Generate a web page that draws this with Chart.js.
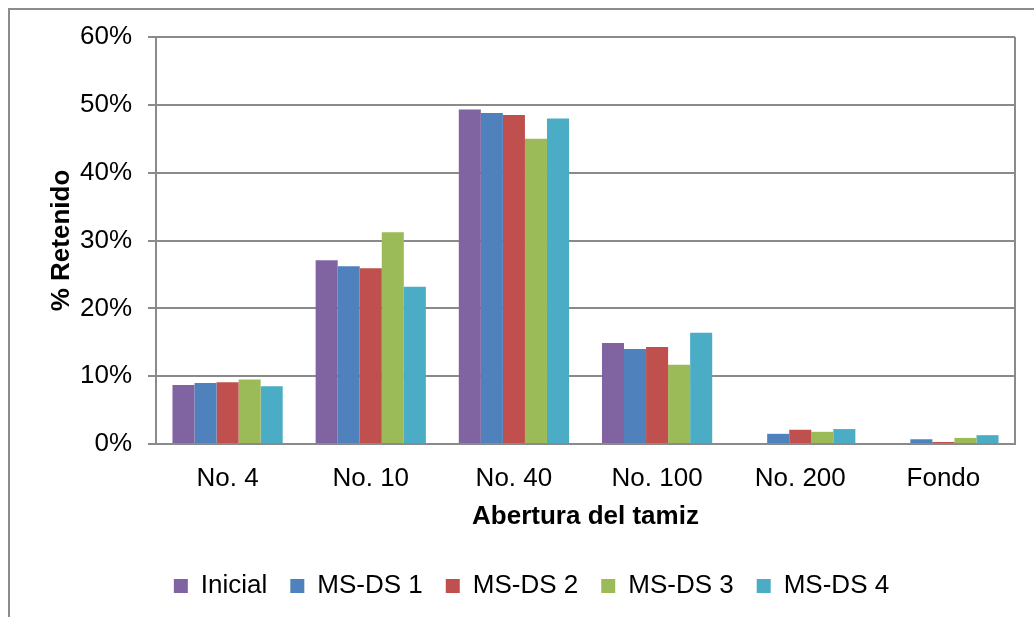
<!DOCTYPE html>
<html>
<head>
<meta charset="utf-8">
<script src="https://cdn.jsdelivr.net/npm/chart.js@4.4.1/dist/chart.umd.min.js"></script>
<style>
  html, body { margin: 0; padding: 0; background: #fff; overflow: hidden; }
  #wrap { position: relative; width: 1034px; height: 617px; }
  #frame { position: absolute; left: 8px; top: 8px; width: 1040px; height: 640px; border: 2px solid #8c8c8c; box-sizing: border-box; }
  canvas { position: absolute; left: 0; top: 0; }
</style>
</head>
<body>
<div id="wrap">
  <div id="frame"></div>
  <canvas id="chart" width="1034" height="617"></canvas>
</div>
<script>
const categories = ['No. 4', 'No. 10', 'No. 40', 'No. 100', 'No. 200', 'Fondo'];
const seriesNames = ['Inicial', 'MS-DS 1', 'MS-DS 2', 'MS-DS 3', 'MS-DS 4'];
const inicial = [8.7, 27.1, 49.3, 14.9, 0, 0];
const msds1 = [9.0, 26.2, 48.8, 14.0, 1.5, 0.7];
const msds2 = [9.1, 25.9, 48.5, 14.3, 2.1, 0.3];
const msds3 = [9.5, 31.2, 45.0, 11.7, 1.8, 0.9];
const msds4 = [8.5, 23.2, 48.0, 16.4, 2.2, 1.3];
const yTicks = [0, 10, 20, 30, 40, 50, 60];

const colors = ['#8064A2', '#4F81BD', '#C0504D', '#9BBB59', '#4BACC6'];
const allSeries = [inicial, msds1, msds2, msds3, msds4];
const gridColor = '#8a8a8a';
const font = 'Liberation Sans, Arial, sans-serif';

// right edge of the plot box + nudge the legend a bit to the right like the original
const plotBorder = {
  id: 'plotBorder',
  afterLayout(chart) {
    chart.legend.left += 24;
    chart.legend.right += 24;
  },
  afterDatasetsDraw(chart) {
    const {ctx, chartArea} = chart;
    ctx.save();
    ctx.strokeStyle = gridColor;
    ctx.lineWidth = 2;
    ctx.beginPath();
    ctx.moveTo(chartArea.right, chartArea.top);
    ctx.lineTo(chartArea.right, chartArea.bottom);
    ctx.stroke();
    ctx.restore();
  }
};

new Chart(document.getElementById('chart').getContext('2d'), {
  type: 'bar',
  data: {
    labels: categories,
    datasets: allSeries.map((d, i) => ({
      label: seriesNames[i],
      data: d,
      backgroundColor: colors[i],
      borderWidth: 0,
      categoryPercentage: 0.77,
      barPercentage: 1.0
    }))
  },
  options: {
    responsive: false,
    animation: false,
    layout: { padding: { top: 37, right: 19, left: 0, bottom: 8 } },
    plugins: {
      tooltip: { enabled: false },
      legend: {
        position: 'bottom',
        labels: {
          color: '#000',
          font: { family: font, size: 26 },
          boxWidth: 14,
          boxHeight: 14,
          padding: 23
        }
      }
    },
    scales: {
      x: {
        grid: { display: false },
        border: { color: gridColor, width: 2 },
        ticks: { color: '#000', font: { family: font, size: 26 }, padding: 11 },
        title: {
          display: true,
          text: 'Abertura del tamiz',
          color: '#000',
          font: { family: font, size: 26, weight: 'bold' },
          padding: { top: 0, bottom: 18 }
        },
        afterFit(scale) { scale.height = 106; }
      },
      y: {
        min: 0,
        max: 60,
        afterBuildTicks(scale) { scale.ticks = yTicks.map(v => ({ value: v })); },
        grid: { color: gridColor, lineWidth: 2, tickLength: 8 },
        border: { color: gridColor, width: 2 },
        ticks: {
          color: '#000',
          font: { family: font, size: 26 },
          padding: 16,
          callback: v => v + '%'
        },
        title: {
          display: true,
          text: '% Retenido',
          color: '#000',
          font: { family: font, size: 26, weight: 'bold' },
          padding: { top: 46, bottom: 0 }
        },
        afterFit(scale) { scale.width = 156; }
      }
    }
  },
  plugins: [plotBorder]
});
</script>
</body>
</html>
